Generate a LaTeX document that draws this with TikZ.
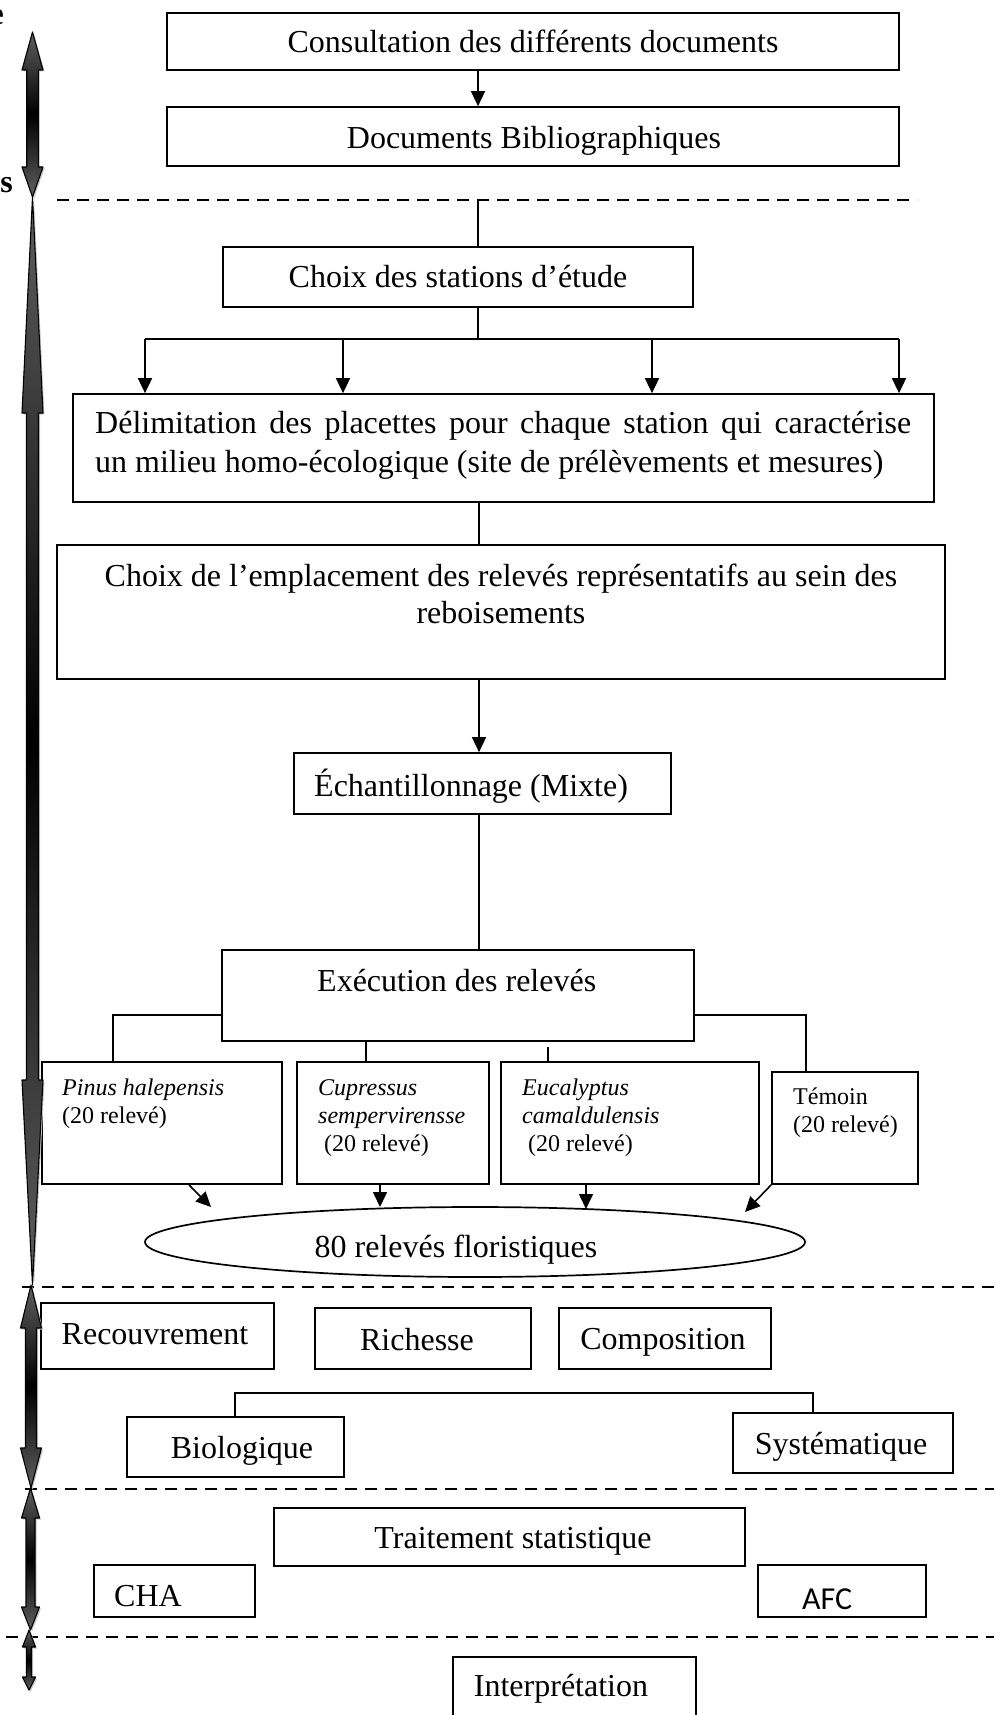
\documentclass[tikz,border=0pt]{standalone}
\usepackage{fontspec}
\setmainfont{Liberation Serif}
\newfontfamily\afcfont{Carlito}
\usetikzlibrary{arrows.meta,shapes.geometric}

\definecolor{arrowgray}{RGB}{95,95,95}

\tikzset{
  box/.style={draw, line width=1.7pt, rectangle, inner sep=0pt},
  conn/.style={line width=1.6pt},
  arr/.style={line width=1.6pt, -{Triangle[length=15pt,width=14pt]}},
  dashline/.style={line width=2.2pt, dash pattern=on 12pt off 8pt},
  txt/.style={inner sep=0pt, anchor=base, font=\fontsize{32}{38}\selectfont},
  spec/.style={inner sep=0pt, anchor=base west, font=\fontsize{24}{28}\selectfont},
}

% outline of a vertical double arrow:
% x, top tip, top head base, bottom head base, bottom tip, head half-width, shaft half-width
\newcommand\fatpath[7]{(#1,#2) -- ({#1+#6},#3) -- ({#1+#7},#3) -- ({#1+#7},#4) -- ({#1+#6},#4)
  -- (#1,#5) -- ({#1-#6},#4) -- ({#1-#7},#4) -- ({#1-#7},#3) -- ({#1-#6},#3) -- cycle}
\newcommand\fatarrow[7]{%
  \fill[gray!45, shift={(1.5,1.5)}] \fatpath{#1}{#2}{#3}{#4}{#5}{#6}{#7};
  \shadedraw[draw=black, line width=1.1pt, line join=round,
    top color=arrowgray, bottom color=arrowgray, middle color=black]
    \fatpath{#1}{#2}{#3}{#4}{#5}{#6}{#7};}

\begin{document}
\begin{tikzpicture}[x=1pt, y=-1pt]
\useasboundingbox (0,0) rectangle (994,1715);

% ---------- boxes ----------
\node[box, minimum width=732pt, minimum height=57pt] (cons)   at (533,41.5)   {};
\node[box, minimum width=732pt, minimum height=59pt] (docs)   at (533,136.5)  {};
\node[box, minimum width=470pt, minimum height=60pt] (choix)  at (458,277)    {};
\node[box, minimum width=861pt, minimum height=108pt] (delim) at (503.5,448)  {};
\node[box, minimum width=888pt, minimum height=134pt] (empl)  at (501,612)    {};
\node[box, minimum width=377pt, minimum height=61pt] (echant) at (482.5,783.5) {};
\node[box, minimum width=472pt, minimum height=91pt] (exec)   at (458,995.5)  {};
\node[box, minimum width=240pt, minimum height=122pt] (pinus) at (162,1123)   {};
\node[box, minimum width=192pt, minimum height=122pt] (cupr)  at (393,1123)   {};
\node[box, minimum width=258pt, minimum height=122pt] (euca)  at (630,1123)   {};
\node[box, minimum width=146pt, minimum height=112pt] (temoin) at (845,1128)  {};
\node[draw, ellipse, line width=1.7pt, inner sep=0pt,
      minimum width=660pt, minimum height=70pt] (flor) at (475,1242) {};
\node[box, minimum width=233pt, minimum height=66pt] (recouv) at (157.5,1336) {};
\node[box, minimum width=216pt, minimum height=61pt] (riche)  at (423,1338.5) {};
\node[box, minimum width=212pt, minimum height=61pt] (compo)  at (665,1338.5) {};
\node[box, minimum width=217pt, minimum height=60pt] (bio)    at (235.5,1447) {};
\node[box, minimum width=220pt, minimum height=60pt] (syst)   at (843,1443)   {};
\node[box, minimum width=471pt, minimum height=58pt] (trait)  at (509.5,1537) {};
\node[box, minimum width=161pt, minimum height=52pt] (cha)    at (174.5,1591) {};
\node[box, minimum width=168pt, minimum height=52pt] (afc)    at (842,1591)   {};
\node[box, minimum width=243pt, minimum height=103pt] (interp) at (574.5,1708.5) {};

% ---------- texts ----------
\node[txt] (consT)  at (533,53)  {Consultation des différents documents};
\node[txt] (docsT)  at (534,149) {Documents Bibliographiques};
\node[txt] (choixT) at (458,287) {Choix des stations d’étude};
\node[txt, anchor=base west, font=\fontsize{32}{39}\selectfont] (delimT) at (95,433) {\parbox[t]{816pt}{\emergencystretch=20pt
  Délimitation des placettes pour chaque station qui caractérise\linebreak
  un milieu homo-écologique (site de prélèvements et mesures)}};
\node[txt, font=\fontsize{32}{37}\selectfont] (emplT) at (501,586) {\parbox[t]{888pt}{\centering
  Choix de l’emplacement des relevés représentatifs au sein des\\reboisements}};
\node[txt, anchor=base west] (echantT) at (314,796) {Échantillonnage (Mixte)};
\node[txt, anchor=base west] (execT)   at (317,991) {Exécution des relevés};
\node[spec] (pinusT) at (62,1095)  {\parbox[t]{215pt}{\itshape Pinus halepensis\\\upshape(20 relevé)}};
\node[spec] (cuprT)  at (318,1095) {\parbox[t]{170pt}{\itshape Cupressus\\sempervirensse\\\upshape\hspace*{6pt}(20 relevé)}};
\node[spec] (eucaT)  at (522,1095) {\parbox[t]{230pt}{\itshape Eucalyptus\\camaldulensis\\\upshape\hspace*{6pt}(20 relevé)}};
\node[spec] (temoinT) at (793,1104) {\parbox[t]{120pt}{Témoin\\(20 relevé)}};
\node[txt] (florT)   at (456,1257) {80 relevés floristiques};
\node[txt] (recouvT) at (155,1344) {Recouvrement};
\node[txt] (richeT)  at (417,1350) {Richesse};
\node[txt] (compoT)  at (663,1349) {Composition};
\node[txt] (bioT)    at (242,1458) {Biologique};
\node[txt] (systT)   at (841,1454) {Systématique};
\node[txt] (traitT)  at (513,1548) {Traitement statistique};
\node[txt, anchor=base west] (chaT) at (114,1606) {CHA};
\node[txt, anchor=base west, font=\fontsize{32}{38}\afcfont] (afcT) at (802,1609) {AFC};
\node[txt] (interpT) at (561,1696) {Interprétation};

% phase labels cut by the left margin
\node[txt, anchor=base east, font=\fontsize{32}{38}\selectfont\bfseries] (labE) at (4,25) {e};
\node[txt, anchor=base east, font=\fontsize{32}{38}\selectfont\bfseries] (labS) at (13,193) {s};

% ---------- separators ----------
\coordinate (d1a) at (57,200);  \coordinate (d1b) at (917,200);
\coordinate (d2a) at (22,1287); \coordinate (d2b) at (994,1287);
\coordinate (d3a) at (25,1489); \coordinate (d3b) at (994,1489);
\coordinate (d4a) at (6,1637);  \coordinate (d4b) at (994,1637);
\draw[dashline] (d1a) -- (d1b);
\draw[dashline] (d2a) -- (d2b);
\draw[dashline] (d3a) -- (d3b);
\draw[dashline] (d4a) -- (d4b);

% ---------- connectors ----------
\coordinate (spine) at (478,0);
\coordinate (spineB) at (479,0);
\draw[arr] (cons.south -| spine) -- (docs.north -| spine);
\draw[conn] (d1a -| spine) -- (choix.north -| spine);
\coordinate (fork) at (478,339);
\coordinate (forkL) at (145,339);
\coordinate (forkR) at (899,339);
\draw[conn] (choix.south -| spine) -- (fork);
\draw[conn] (forkL) -- (forkR);
\foreach \x in {145,343,652,899}
  \draw[arr] (\x,339) -- (delim.north -| \x,339);
\draw[conn] (delim.south -| spineB) -- (empl.north -| spineB);
\draw[arr]  (empl.south -| spineB) -- (echant.north -| spineB);
\draw[conn] (echant.south -| spineB) -- (exec.north -| spineB);

\coordinate (brL) at (113,1015);
\coordinate (brC) at (366,1041);
\coordinate (brE) at (548,1047);
\coordinate (brR) at (806,1015);
\draw[conn] (exec.west |- brL) -- (brL) -- (pinus.north -| brL);
\draw[conn] (exec.south -| brC) -- (cupr.north -| brC);
\draw[conn] (brE) -- (euca.north -| brE);
\draw[conn] (exec.east |- brR) -- (brR) -- (temoin.north -| brR);

\coordinate (tipP) at (211,1207);
\coordinate (tipC) at (380,1207);
\coordinate (tipE) at (586,1209);
\coordinate (tipT) at (745,1212);
\draw[arr] (pinus.south -| 189,0) -- (tipP);
\draw[arr] (cupr.south -| tipC) -- (tipC);
\draw[arr] (euca.south -| tipE) -- (tipE);
\draw[arr] (temoin.south west) -- (tipT);

\coordinate (bsL) at (235,1393);
\coordinate (bsR) at (813,1393);
\draw[conn] (bio.north -| bsL) -- (bsL) -- (bsR) -- (syst.north -| bsR);

% ---------- phase arrows along the left edge ----------
\fatarrow{32.5}{32}{70}{167}{197}{10.5}{5.8}
\fatarrow{32.5}{197}{413}{1080}{1285}{10.5}{6}
\fatarrow{31}{1285}{1328}{1448}{1488}{10.5}{5.5}
\fatarrow{30.5}{1488}{1518}{1607}{1630}{9}{4.5}
\fatarrow{29}{1630}{1647}{1677}{1690}{6.5}{2.5}
\end{tikzpicture}
\end{document}
